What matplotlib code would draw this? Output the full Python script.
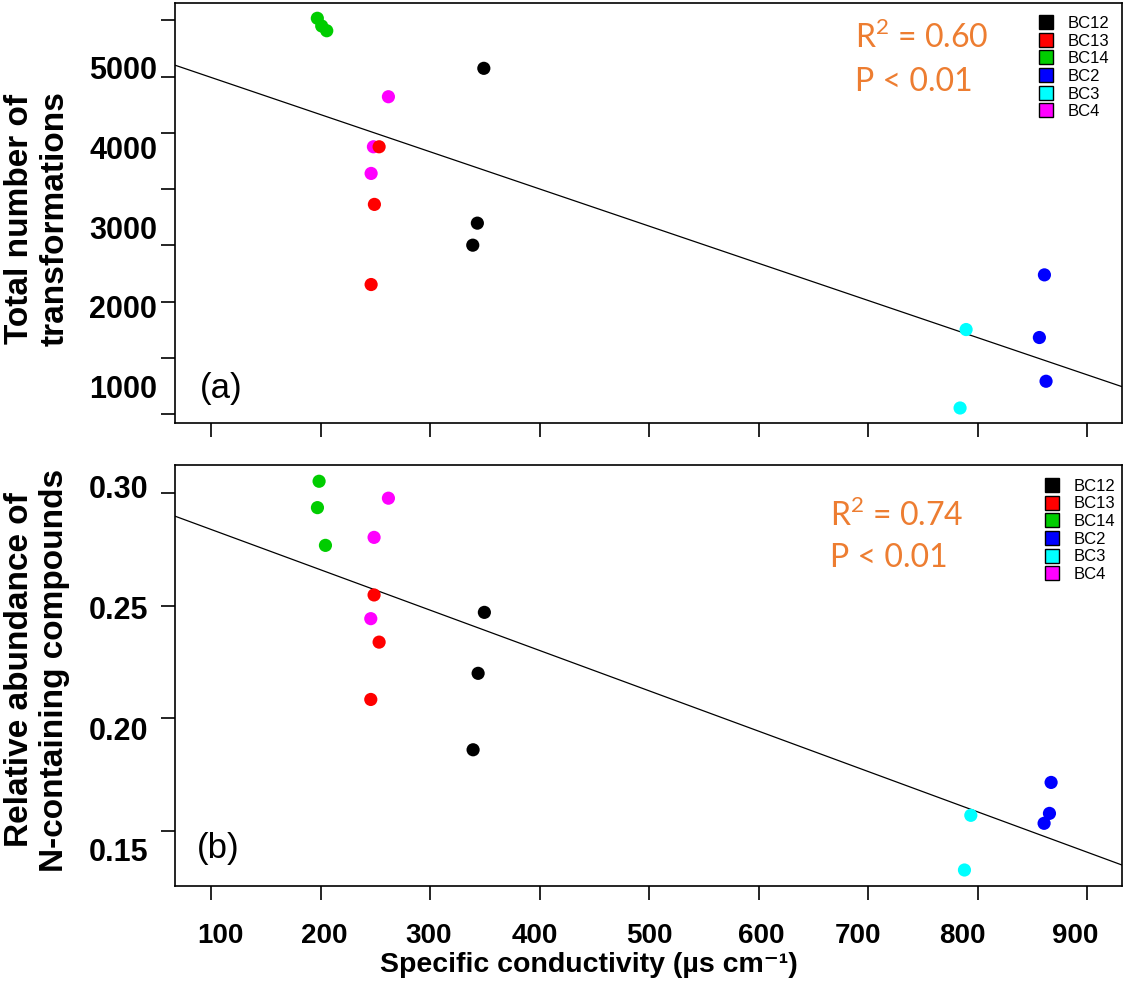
import numpy as np
import matplotlib.pyplot as plt
from matplotlib.lines import Line2D
from matplotlib.transforms import blended_transform_factory

plt.rcParams['font.family'] = ['Liberation Sans', 'DejaVu Sans']
plt.rcParams['mathtext.fontset'] = 'custom'
plt.rcParams['mathtext.rm'] = 'Lato'

# legend order and R default palette colours
sites = ['BC12', 'BC13', 'BC14', 'BC2', 'BC3', 'BC4']
site_colors = ['black', '#FF0000', '#00CD00', '#0000FF', '#00FFFF', '#FF00FF']

# one entry per sample, in drawing order
point_site = ['BC14', 'BC14', 'BC14', 'BC4', 'BC4', 'BC4', 'BC13', 'BC13', 'BC13',
              'BC12', 'BC12', 'BC12', 'BC3', 'BC3', 'BC2', 'BC2', 'BC2']

# panel (a): total number of transformations
cond_a = [197.0, 201.0, 205.6, 261.9, 248.2, 246.1, 253.4, 249.1, 246.1,
          349.0, 343.1, 338.9, 789.3, 783.8, 860.8, 856.2, 862.3]
trans_a = [5661, 5564, 5505, 4678, 4051, 3717, 4051, 3329, 2325,
           5034, 3094, 2818, 1761, 778, 2446, 1661, 1113]

# panel (b): relative abundance of N-containing compounds
cond_b = [198.6, 197.1, 204.4, 261.9, 248.8, 245.8, 248.8, 253.4, 245.8,
          349.5, 343.8, 339.2, 793.6, 787.8, 866.9, 865.4, 860.5]
nfrac_b = [0.3036, 0.2927, 0.2771, 0.2966, 0.2804, 0.2468, 0.2566, 0.2371, 0.2134,
           0.2494, 0.2242, 0.1926, 0.1655, 0.1429, 0.1791, 0.1663, 0.1622]

stats_a = ['R$^{2}$ = 0.60', 'P < 0.01']
stats_b = ['R$^{2}$ = 0.74', 'P < 0.01']

x_ticks = [100, 200, 300, 400, 500, 600, 700, 800, 900]
x_tick_text = ['100', '200', '300', '400', '500', '600', '700', '800', '900']
x_text_pos = [108.2, 203.6, 299.0, 395.4, 500.3, 602.5, 690.3, 786.1, 889.3]

# y tick marks and the (separately placed) labels, as in the original figure
a_ticks = [5639, 4925, 4223, 3520, 2818, 2103, 1401, 699]
a_labels = [5000, 4000, 3000, 2000, 1000]
b_ticks = [0.2986, 0.2522, 0.2056, 0.1590]
b_labels = [0.30, 0.25, 0.20, 0.15]

color_of = dict(zip(sites, site_colors))
orange = '#ED7D31'

fig = plt.figure(figsize=(11.25, 9.86), dpi=100)
ax1 = fig.add_axes([0.1556, 0.571, 0.8418, 0.426])
ax2 = fig.add_axes([0.1556, 0.1017, 0.8418, 0.4264])


def draw_panel(ax, x, y, yticks, ylabels, fmt, ylab_x, stats, stats_pos, tag, tag_pos, leg_pos):
    cols = [color_of[s] for s in point_site]
    ax.scatter(x, y, c=cols, s=90, edgecolors='none', zorder=3)
    slope, icpt = np.polyfit(x, y, 1)
    xl = np.array(ax.get_xlim())
    ax.plot(xl, icpt + slope * xl, color='black', lw=0.9, zorder=2)
    ax.set_xlim(xl)
    ax.set_xticks(x_ticks)
    ax.set_yticks(yticks)
    ax.tick_params(direction='out', length=10, width=1.2, labelbottom=False, labelleft=False)
    for sp in ax.spines.values():
        sp.set_linewidth(1.2)
    tr = blended_transform_factory(ax.transAxes, ax.transData)
    for v in ylabels:
        ax.text(ylab_x, v, fmt.format(v), transform=tr, ha='right', va='center',
                fontsize=22, fontweight='bold')
    for i, s in enumerate(stats):
        ax.text(stats_pos[0], stats_pos[1][i], s, transform=ax.transAxes, color=orange,
                fontsize=23, family=['Lato', 'DejaVu Sans'], va='center', ha='left')
    ax.text(tag_pos[0], tag_pos[1], tag, transform=ax.transAxes, fontsize=25,
            ha='left', va='center')
    handles = [Line2D([], [], ls='none', marker='s', ms=10, mfc=c, mec='black', mew=1)
               for c in site_colors]
    ax.legend(handles, sites, loc='upper left', bbox_to_anchor=leg_pos, frameon=False,
              fontsize=12, handlelength=0.8, handletextpad=0.9, labelspacing=0.16,
              borderpad=0, borderaxespad=0)


ax1.set_xlim(67.1, 931.7)
ax1.set_ylim(590, 5853)
ax2.set_xlim(67.1, 931.7)
ax2.set_ylim(0.1364, 0.3102)

draw_panel(ax1, cond_a, trans_a, a_ticks, a_labels, '{:d}', -0.019,
           stats_a, (0.718, [0.9174, 0.8126]), '(a)', (0.0264, 0.0833), (0.913, 0.969))
draw_panel(ax2, cond_b, nfrac_b, b_ticks, b_labels, '{:.2f}', -0.0285,
           stats_b, (0.6917, [0.8818, 0.7795]), '(b)', (0.0232, 0.0897), (0.9185, 0.968))

trx = blended_transform_factory(ax2.transData, ax2.transAxes)
for pos, lab in zip(x_text_pos, x_tick_text):
    ax2.text(pos, -0.1196, lab, transform=trx, ha='center', va='center',
             fontsize=20, fontweight='bold')

fig.text(0.523, 0.021, 'Specific conductivity (\u00b5s cm\u207b\u00b9)', ha='center', va='center',
         fontsize=20.5, fontweight='bold')
fig.text(0.0329, 0.778, 'Total number of\ntransformations', rotation=90, ha='center',
         va='center', fontsize=24, fontweight='bold', linespacing=1.2)
fig.text(0.0329, 0.3205, 'Relative abundance of\nN-containing compounds', rotation=90,
         ha='center', va='center', fontsize=24, fontweight='bold', linespacing=1.2)

fig.savefig('out.png', dpi=100)
